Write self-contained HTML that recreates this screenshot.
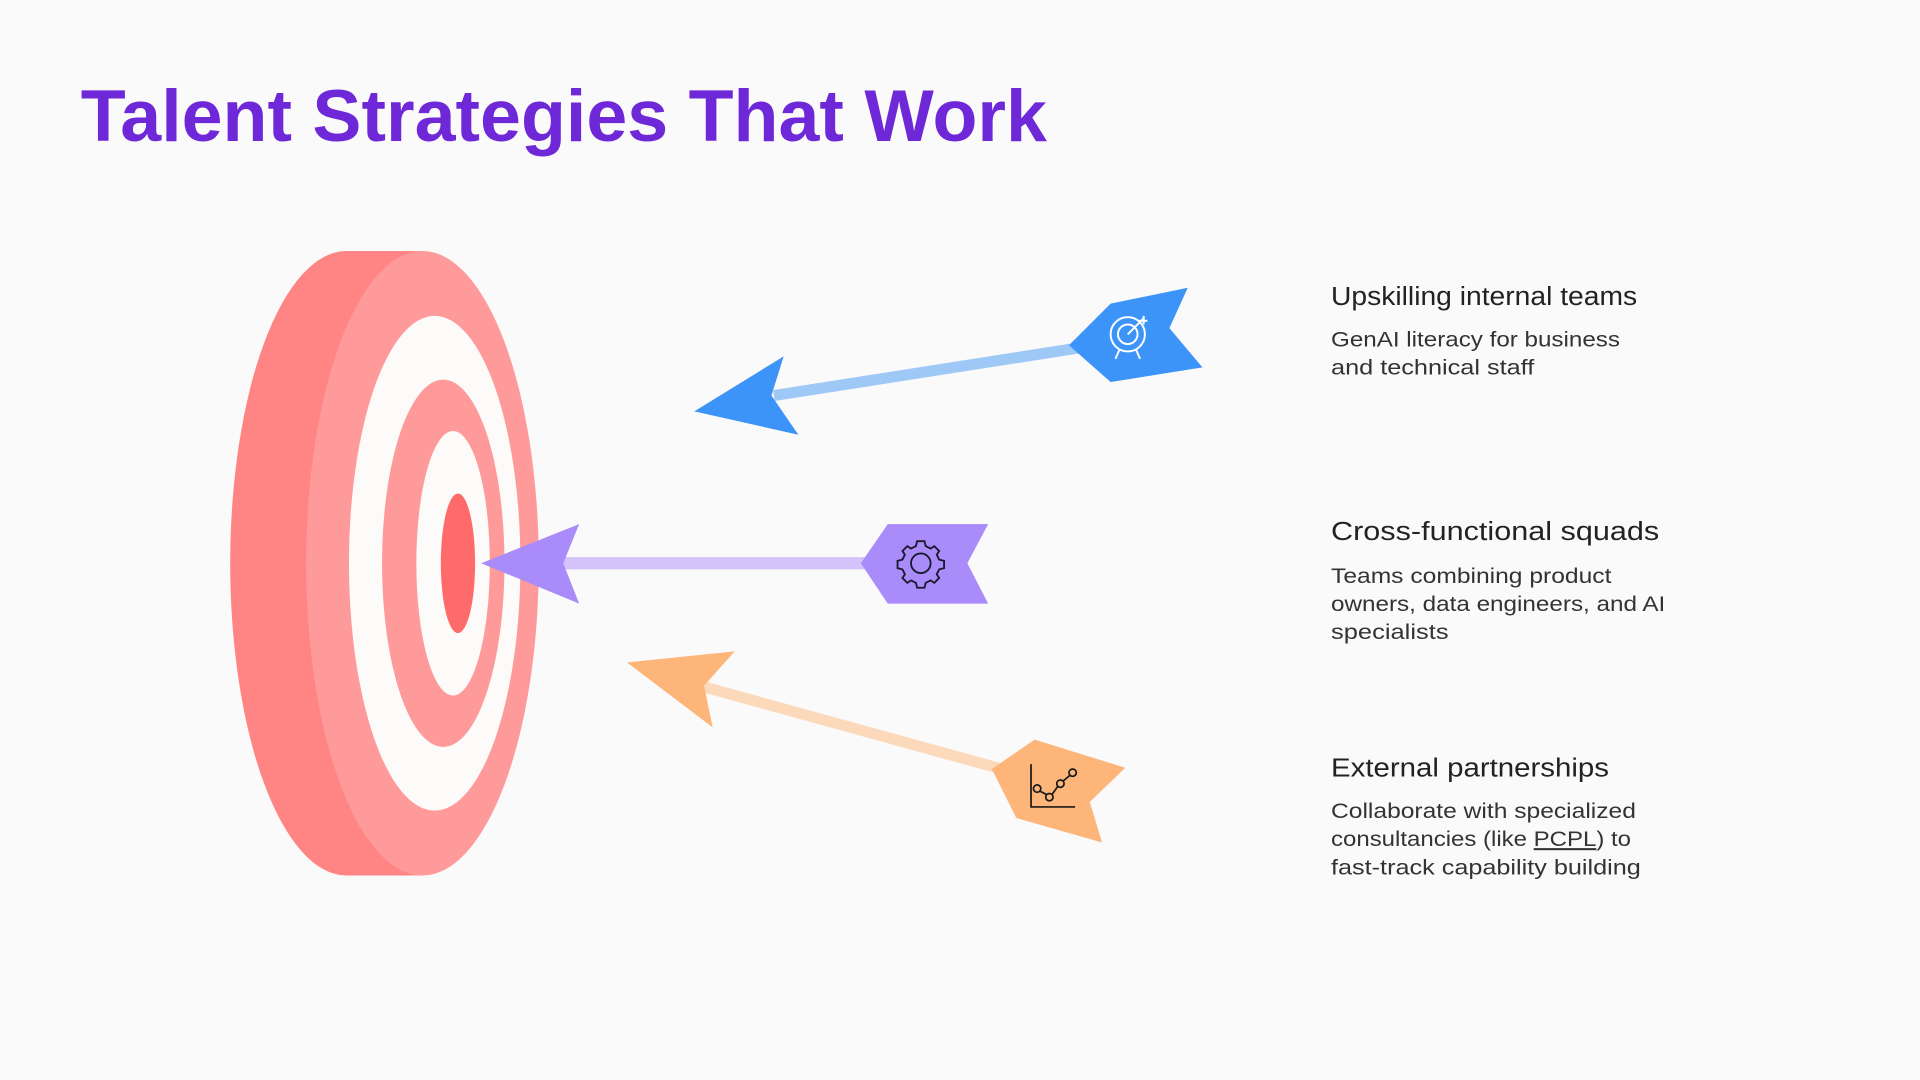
<!DOCTYPE html>
<html><head><meta charset="utf-8"><style>
html,body{margin:0;padding:0;background:#fafafa;}
svg{display:block;}
text{font-family:"Liberation Sans","DejaVu Sans",sans-serif;}
</style></head><body>
<svg width="1920" height="1080" viewBox="0 0 1568 882" xmlns="http://www.w3.org/2000/svg">
<rect width="1568" height="882" fill="#fafafa"/>
<text x="66" y="115" font-size="60" font-weight="bold" fill="#6f28d8" textLength="789" lengthAdjust="spacingAndGlyphs">Talent Strategies That Work</text>

<!-- target -->
<ellipse cx="283" cy="460" rx="95" ry="255" fill="#ff8585"/>
<rect x="283" y="205" width="62" height="510" fill="#ff8585"/>
<ellipse cx="345" cy="460" rx="95" ry="255" fill="#ff9a9a"/>
<ellipse cx="355" cy="460" rx="70" ry="202" fill="#fdfafa"/>
<ellipse cx="362" cy="460" rx="50" ry="150" fill="#ff9a9a"/>
<ellipse cx="370" cy="460" rx="30" ry="108" fill="#fdfafa"/>
<ellipse cx="374" cy="460" rx="14" ry="57" fill="#ff6b6b"/>

<!-- blue arrow -->
<line x1="632" y1="323" x2="882" y2="284" stroke="#9ec9f7" stroke-width="9"/>
<polygon points="567,336 640,291 630,323 652,355" fill="#3d94f8"/>
<polygon points="873,282 907,248 970,235 955,268 982,300 907,312" fill="#3d94f8"/>
<g stroke="#fff" stroke-width="1.6" fill="none">
<circle cx="921" cy="273" r="14"/><circle cx="921" cy="273" r="8"/><line x1="921" y1="273" x2="934" y2="260"/>
<line x1="930" y1="262" x2="937" y2="262"/><line x1="934" y1="258" x2="934" y2="265"/>
<line x1="914" y1="286" x2="911" y2="293"/><line x1="928" y1="286" x2="931" y2="293"/>
</g>

<!-- purple arrow -->
<line x1="458" y1="460" x2="712" y2="460" stroke="#d4c2fb" stroke-width="10"/>
<polygon points="393,460 473,428 460,460 473,493" fill="#a98bfa"/>
<polygon points="703,460 725,428 807,428 790,460 807,493 725,493" fill="#a98bfa"/>
<g stroke="#1a1a2e" stroke-width="1.5" fill="none">
<circle cx="752" cy="460" r="8"/>
<path d="M749,442 h6 l1,4 l4,2 l3,-2 l4,4 l-2,3 l2,4 l4,1 v6 l-4,1 l-2,4 l2,3 l-4,4 l-3,-2 l-4,2 l-1,4 h-6 l-1,-4 l-4,-2 l-3,2 l-4,-4 l2,-3 l-2,-4 l-4,-1 v-6 l4,-1 l2,-4 l-2,-3 l4,-4 l3,2 l4,-2 z"/>
</g>

<!-- orange arrow -->
<line x1="575" y1="561" x2="818" y2="628" stroke="#fdd9bc" stroke-width="9"/>
<polygon points="512,541 600,532 575,560 582,594" fill="#fdb57a"/>
<polygon points="810,628 845,604 919,627 890,655 900,688 830,668" fill="#fdb57a"/>
<g stroke="#1a1a1a" stroke-width="1.4" fill="none">
<polyline points="842,624 842,659 878,659"/>
<circle cx="847" cy="644" r="3"/><circle cx="857" cy="651" r="3"/><circle cx="866" cy="640" r="3"/><circle cx="876" cy="631" r="3"/>
<line x1="849" y1="646" x2="855" y2="649"/><line x1="859" y1="649" x2="864" y2="642"/><line x1="868" y1="638" x2="874" y2="633"/>
</g>

<!-- texts -->
<g fill="#222">
<text x="1087" y="249" font-size="21" textLength="250" lengthAdjust="spacingAndGlyphs">Upskilling internal teams</text>
<text x="1087" y="441" font-size="21" textLength="268" lengthAdjust="spacingAndGlyphs">Cross-functional squads</text>
<text x="1087" y="634" font-size="21" textLength="227" lengthAdjust="spacingAndGlyphs">External partnerships</text>
</g>
<g fill="#333" font-size="17">
<text x="1087" y="283" textLength="236" lengthAdjust="spacingAndGlyphs">GenAI literacy for business</text>
<text x="1087" y="306" textLength="166" lengthAdjust="spacingAndGlyphs">and technical staff</text>
<text x="1087" y="476" textLength="229" lengthAdjust="spacingAndGlyphs">Teams combining product</text>
<text x="1087" y="499" textLength="273" lengthAdjust="spacingAndGlyphs">owners, data engineers, and AI</text>
<text x="1087" y="522" textLength="96" lengthAdjust="spacingAndGlyphs">specialists</text>
<text x="1087" y="668" textLength="249" lengthAdjust="spacingAndGlyphs">Collaborate with specialized</text>
<text x="1087" y="691" textLength="245" lengthAdjust="spacingAndGlyphs">consultancies (like <tspan text-decoration="underline">PCPL</tspan>) to</text>
<text x="1087" y="714" textLength="253" lengthAdjust="spacingAndGlyphs">fast-track capability building</text>
</g>
</svg>
</body></html>
